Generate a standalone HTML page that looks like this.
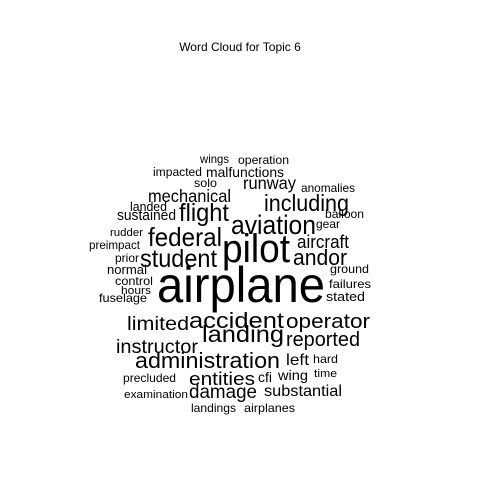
<!DOCTYPE html>
<html><head><meta charset="utf-8"><style>
html,body{margin:0;padding:0;background:#fff;}
svg{display:block;font-family:"Liberation Sans",Arial,sans-serif;}
</style></head><body>
<svg id="c" width="480" height="480" viewBox="0 0 480 480">
<text x="240" y="51" text-anchor="middle" font-size="12" fill="#000">Word Cloud for Topic 6</text>
<g id="words"></g>
</svg>
<script>
const words = ["airplane","pilot","aviation","including","flight","federal","student","andor","aircraft","mechanical","runway","sustained","landed","impacted","malfunctions","wings","operation","solo","anomalies","balloon","gear","rudder","preimpact","prior","normal","control","hours","fuselage","ground","failures","stated","limited","accident","operator","landing","reported","instructor","administration","left","hard","precluded","entities","cfi","wing","time","examination","damage","substantial","landings","airplanes"];
const sizes = [47,37,25,21.5,23,24,23.5,21,17,16.5,16.5,14,12,11.5,13,11,11,11,11,11,11,10.5,11,11,12,11,10.5,11,11,11,12,18,21,19,22,19,18,21,15,11,11,17,13,13,10,10.5,18,15,11,11];
// layout: left x, right x, baseline y
const lefts = [157,222,231,264,179,148,140,293,297,148,243,117,130,153,206,200,238,194,301,325,316,110,89,115,107,115,121,99,330,329,326,127,189,286,202,286,116,135,286,313,123,189,258,278,314,124,189,264,191,244];
const rights = [325,290,316,349,229,222,217,347,349,231,296,176,167,202,284,229,289,217,355,364,340,143,140,139,147,153,151,147,369,371,365,189,284,370,284,360,198,280,309,338,176,255,272,308,337,188,257,342,236,295];
const bases = [302,262,234,211,221,246,267,265,248,202,189,220,211,176,177,163,164,187,192,218,228,236,249,262,274,285,294,302,273,288,301,330,328,328,342,346,353,368,365,363,382,385,382,380,377,398,398,396,412,412];
const g = document.getElementById('words');
const NS = "http://www.w3.org/2000/svg";
words.forEach((w,i)=>{
  const t = document.createElementNS(NS,'text');
  t.setAttribute('x', lefts[i]);
  t.setAttribute('y', bases[i]);
  t.setAttribute('font-size', (sizes[i]*1.07).toFixed(1));
  t.setAttribute('fill', '#000');
  t.setAttribute('textLength', rights[i]-lefts[i]);
  t.setAttribute('lengthAdjust', 'spacingAndGlyphs');
  t.textContent = w;
  
  
  g.appendChild(t);
});
</script>
</body></html>
